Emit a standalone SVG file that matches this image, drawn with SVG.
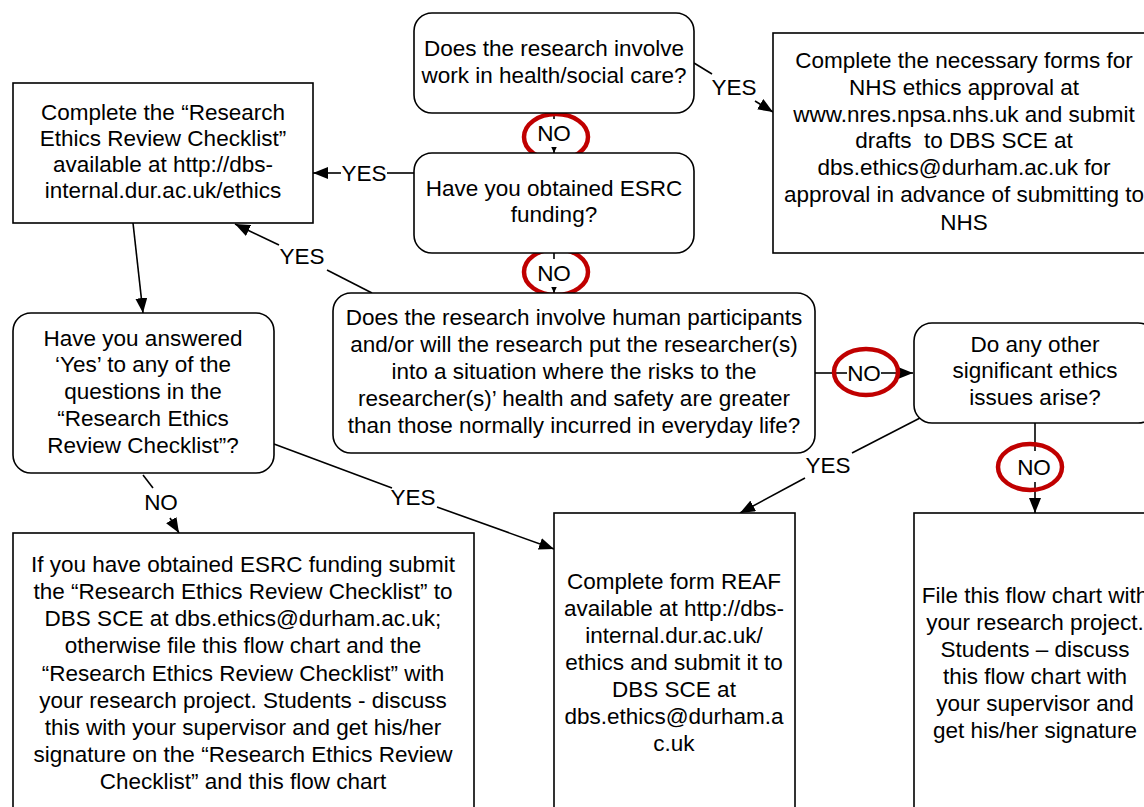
<svg xmlns="http://www.w3.org/2000/svg" width="1144" height="807" viewBox="0 0 1144 807">
<style>
.box{fill:#fff;stroke:#000;stroke-width:1.6}
.t{font-family:'Liberation Sans',Arial,sans-serif;font-size:22.5px;fill:#000;text-anchor:middle}
.ln{fill:none;stroke:#000;stroke-width:1.6}
.ring{fill:none;stroke:#C00000;stroke-width:4.5}
.pre{white-space:pre}
</style>
<defs>
<marker id="arr" markerUnits="userSpaceOnUse" markerWidth="16" markerHeight="12" viewBox="0 0 16 12" refX="15" refY="6" orient="auto">
<path d="M0,0 L15,6 L0,12 Z" fill="#000"/>
</marker>
<marker id="arrs" markerUnits="userSpaceOnUse" markerWidth="7" markerHeight="6" viewBox="0 0 7 6" refX="6.5" refY="3" orient="auto">
<path d="M0,0 L6.5,3 L0,6 Z" fill="#000"/>
</marker>
</defs>
<rect width="1144" height="807" fill="#fff"/>

<g id="connectors">
<line class="ln" x1="694" y1="63" x2="712" y2="74"/>
<line class="ln" x1="755" y1="101" x2="773" y2="112" marker-end="url(#arr)"/>
<text class="t" x="734" y="95">YES</text>

<line class="ln" x1="554" y1="113" x2="554" y2="119"/>
<line class="ln" x1="554" y1="147" x2="554" y2="153" marker-end="url(#arrs)"/>
<text class="t" x="554" y="141">NO</text>

<line class="ln" x1="414" y1="173" x2="387" y2="173"/>
<line class="ln" x1="341" y1="173" x2="313" y2="173" marker-end="url(#arr)"/>
<text class="t" x="364" y="181">YES</text>

<line class="ln" x1="133" y1="223" x2="143" y2="313" marker-end="url(#arr)"/>

<line class="ln" x1="372" y1="293" x2="327" y2="270"/>
<line class="ln" x1="279" y1="245" x2="235" y2="224" marker-end="url(#arr)"/>
<text class="t" x="302" y="264">YES</text>

<line class="ln" x1="554" y1="253" x2="554" y2="259"/>
<line class="ln" x1="554" y1="287" x2="554" y2="293" marker-end="url(#arrs)"/>
<text class="t" x="554" y="281">NO</text>

<line class="ln" x1="815" y1="373" x2="847" y2="373"/>
<line class="ln" x1="881" y1="373" x2="913" y2="373" marker-end="url(#arr)"/>
<text class="t" x="864" y="381">NO</text>

<line class="ln" x1="920" y1="418" x2="852" y2="453"/>
<line class="ln" x1="805" y1="478" x2="740" y2="513" marker-end="url(#arr)"/>
<text class="t" x="828" y="473">YES</text>

<line class="ln" x1="1035" y1="423" x2="1035" y2="451"/>
<line class="ln" x1="1035" y1="482" x2="1035" y2="513" marker-end="url(#arr)"/>
<text class="t" x="1034" y="475">NO</text>

<line class="ln" x1="143" y1="475" x2="153" y2="488"/>
<line class="ln" x1="170" y1="518" x2="179" y2="533" marker-end="url(#arr)"/>
<text class="t" x="161" y="510">NO</text>

<line class="ln" x1="274" y1="444" x2="392" y2="488"/>
<line class="ln" x1="437" y1="507" x2="554" y2="549" marker-end="url(#arr)"/>
<text class="t" x="413" y="505">YES</text>

<ellipse class="ring" cx="556" cy="137" rx="32" ry="23"/>
<ellipse class="ring" cx="556" cy="272" rx="32" ry="23"/>
<ellipse class="ring" cx="866" cy="372" rx="32" ry="23"/>
<ellipse class="ring" cx="1030" cy="467" rx="32" ry="23"/>
</g>

<g id="q-health">
<rect class="box" x="414" y="13" width="280" height="100" rx="18"/>
<text class="t"><tspan x="554" y="56">Does the research involve</tspan><tspan x="554" y="83">work in health/social care?</tspan></text>
</g>

<g id="nhs">
<rect class="box" x="773" y="33" width="382" height="220"/>
<text class="t"><tspan x="964" y="68">Complete the necessary forms for</tspan><tspan x="964" y="95">NHS ethics approval at</tspan><tspan x="964" y="122">www.nres.npsa.nhs.uk and submit</tspan><tspan class="pre" x="964" y="148">drafts  to DBS SCE at</tspan><tspan x="964" y="175">dbs.ethics@durham.ac.uk for</tspan><tspan x="964" y="202">approval in advance of submitting to</tspan><tspan x="964" y="230">NHS</tspan></text>
</g>

<g id="q-esrc">
<rect class="box" x="414" y="153" width="280" height="100" rx="18"/>
<text class="t"><tspan x="554" y="196">Have you obtained ESRC</tspan><tspan x="554" y="222">funding?</tspan></text>
</g>

<g id="checklist">
<rect class="box" x="13" y="83" width="300" height="140"/>
<text class="t"><tspan x="163" y="120">Complete the “Research</tspan><tspan x="163" y="146">Ethics Review Checklist”</tspan><tspan x="163" y="172">available at http://dbs-</tspan><tspan x="163" y="198">internal.dur.ac.uk/ethics</tspan></text>
</g>

<g id="q-human">
<rect class="box" x="333" y="293" width="482" height="160" rx="18"/>
<text class="t"><tspan x="574" y="325">Does the research involve human participants</tspan><tspan x="574" y="352">and/or will the research put the researcher(s)</tspan><tspan x="574" y="379">into a situation where the risks to the</tspan><tspan x="574" y="406">researcher(s)’ health and safety are greater</tspan><tspan x="574" y="433">than those normally incurred in everyday life?</tspan></text>
</g>

<g id="q-answered">
<rect class="box" x="13" y="313" width="261" height="160" rx="18"/>
<text class="t"><tspan x="143" y="346">Have you answered</tspan><tspan x="143" y="372">‘Yes’ to any of the</tspan><tspan x="143" y="399">questions in the</tspan><tspan x="143" y="426">“Research Ethics</tspan><tspan x="143" y="453">Review Checklist”?</tspan></text>
</g>

<g id="q-other">
<rect class="box" x="914" y="323" width="242" height="100" rx="18"/>
<text class="t"><tspan x="1035" y="352">Do any other</tspan><tspan x="1035" y="378">significant ethics</tspan><tspan x="1035" y="405">issues arise?</tspan></text>
</g>

<g id="submit-checklist">
<rect class="box" x="13" y="533" width="461" height="300"/>
<text class="t"><tspan x="243" y="572">If you have obtained ESRC funding submit</tspan><tspan x="243" y="599">the “Research Ethics Review Checklist” to</tspan><tspan x="243" y="626">DBS SCE at dbs.ethics@durham.ac.uk;</tspan><tspan x="243" y="653">otherwise file this flow chart and the</tspan><tspan x="243" y="681">“Research Ethics Review Checklist” with</tspan><tspan x="243" y="708">your research project. Students - discuss</tspan><tspan x="243" y="735">this with your supervisor and get his/her</tspan><tspan x="243" y="762">signature on the “Research Ethics Review</tspan><tspan x="243" y="789">Checklist” and this flow chart</tspan></text>
</g>

<g id="reaf">
<rect class="box" x="554" y="513" width="241" height="320"/>
<text class="t"><tspan x="674" y="589">Complete form REAF</tspan><tspan x="674" y="616">available at http://dbs-</tspan><tspan x="674" y="643">internal.dur.ac.uk/</tspan><tspan x="674" y="670">ethics and submit it to</tspan><tspan x="674" y="697">DBS SCE at</tspan><tspan x="674" y="724">dbs.ethics@durham.a</tspan><tspan x="674" y="751">c.uk</tspan></text>
</g>

<g id="file">
<rect class="box" x="914" y="513" width="242" height="320"/>
<text class="t"><tspan x="1035" y="603">File this flow chart with</tspan><tspan x="1035" y="630">your research project.</tspan><tspan x="1035" y="657">Students – discuss</tspan><tspan x="1035" y="684">this flow chart with</tspan><tspan x="1035" y="711">your supervisor and</tspan><tspan x="1035" y="738">get his/her signature</tspan></text>
</g>
</svg>
